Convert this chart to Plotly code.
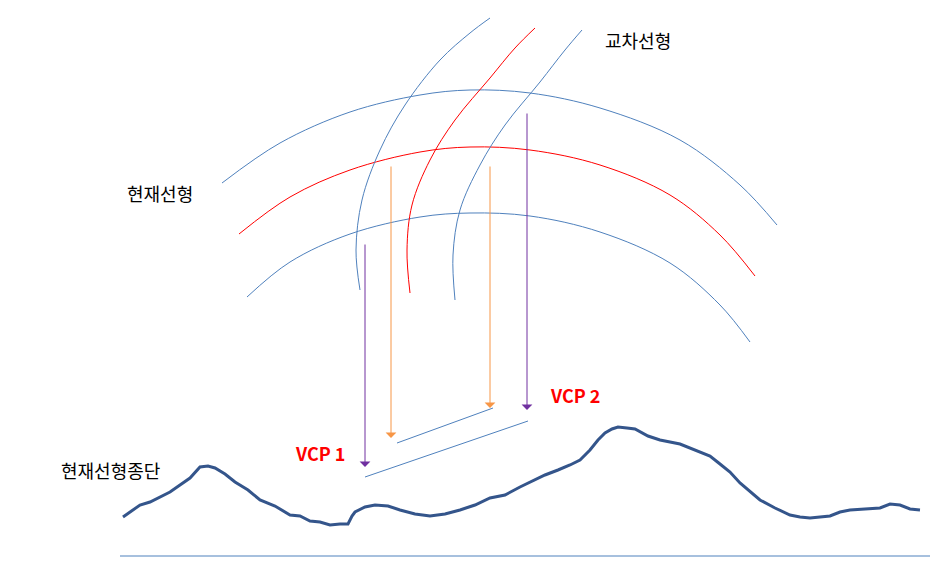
import plotly.graph_objects as go

# curves (pixel-space diagram data)
arc_outer_x = [222, 280, 350, 420, 470, 530, 600, 680, 740, 777]
arc_outer_y = [183, 143, 112, 95, 90, 93, 108, 140, 185, 225]
arc_mid_x = [239, 290, 350, 420, 470, 530, 600, 670, 720, 755]
arc_mid_y = [234, 197, 170, 152, 147, 150, 165, 195, 235, 276]
arc_inner_x = [247, 290, 350, 420, 470, 530, 600, 670, 720, 750]
arc_inner_y = [297, 262, 234, 217, 213, 216, 232, 263, 305, 342]
cross1_x = [360, 356, 362, 380, 405, 440, 470, 490]
cross1_y = [290, 250, 200, 150, 105, 60, 33, 18]
cross2_x = [410, 407, 412, 430, 455, 490, 515, 535]
cross2_y = [293, 250, 205, 160, 120, 78, 48, 28]
cross3_x = [455, 453, 460, 480, 505, 540, 565, 582]
cross3_y = [300, 255, 210, 165, 125, 82, 50, 30]
terrain_x = [123, 132, 140, 150, 160, 170, 180, 190, 200, 208, 215, 225, 235, 248, 260, 275, 290, 300, 310, 320, 330, 340,
             348, 352, 355, 365, 375, 388, 400, 415, 430, 445, 460, 475, 490, 505, 520, 532, 545, 558, 570, 580, 590,
             598, 605, 612, 618, 627, 635, 648, 660, 680, 700, 710, 720, 730, 740, 750, 760, 775, 790, 800, 810, 830,
             840, 850, 865, 880, 890, 900, 910, 920]
terrain_y = [517, 511, 505, 502, 497, 492, 485, 478, 467, 466, 468, 474, 482, 490, 500, 506, 515, 516, 521, 522, 525, 524,
             524, 516, 512, 507, 505, 506, 510, 514, 516, 514, 510, 505, 498, 495, 487, 481, 475, 470, 465, 460, 450,
             440, 433, 429, 427, 428, 429, 436, 440, 444, 452, 456, 464, 472, 483, 492, 500, 508, 515, 517, 518, 516,
             512, 510, 509, 508, 504, 505, 509, 510]
arrows = [(365, 243, 467, "#7030A0"), (391, 165, 438, "#F79646"), (490, 165, 408, "#F79646"), (527, 112, 410, "#7030A0")]
grade_lines = [(397, 443, 493, 408), (365, 477, 528, 421)]

fig = go.Figure()
for xs, ys, c in [(arc_outer_x, arc_outer_y, "#4F81BD"), (arc_mid_x, arc_mid_y, "red"),
                  (arc_inner_x, arc_inner_y, "#4F81BD"), (cross1_x, cross1_y, "#4F81BD"),
                  (cross2_x, cross2_y, "red"), (cross3_x, cross3_y, "#4F81BD")]:
    fig.add_trace(go.Scatter(x=xs, y=ys, mode="lines", line=dict(color=c, width=1, shape="spline"), hoverinfo="skip"))
fig.add_trace(go.Scatter(x=terrain_x, y=terrain_y, mode="lines", line=dict(color="#34558B", width=3), hoverinfo="skip"))
for x0, y0, x1, y1 in grade_lines:
    fig.add_shape(type="line", x0=x0, y0=y0, x1=x1, y1=y1, line=dict(color="#4F81BD", width=1))
fig.add_shape(type="line", x0=120, y0=556, x1=930, y1=556, line=dict(color="#4F81BD", width=1))
for x, y0, y1, c in arrows:
    fig.add_annotation(x=x, y=y1, ax=x, ay=y0, xref="x", yref="y", axref="x", ayref="y", text="",
                       showarrow=True, arrowhead=1, arrowsize=1.8, arrowwidth=1, arrowcolor=c)
font = "Noto Sans CJK KR"
texts = [(638, 40, "교차선형", "black", False), (160, 193, "현재선형", "black", False),
         (110, 470, "현재선형종단", "black", False), (320, 453, "VCP 1", "red", True), (575, 395, "VCP 2", "red", True)]
for x, y, t, c, b in texts:
    fig.add_annotation(x=x, y=y, text=f"<b>{t}</b>" if b else t, showarrow=False, xref="x", yref="y",
                       font=dict(family=font, size=18, color=c))
fig.update_layout(width=952, height=578, margin=dict(l=0, r=0, t=0, b=0), showlegend=False,
                  plot_bgcolor="white", paper_bgcolor="white",
                  xaxis=dict(range=[8, 960], visible=False),
                  yaxis=dict(range=[586, 8], visible=False))
fig.write_html("out.html")
